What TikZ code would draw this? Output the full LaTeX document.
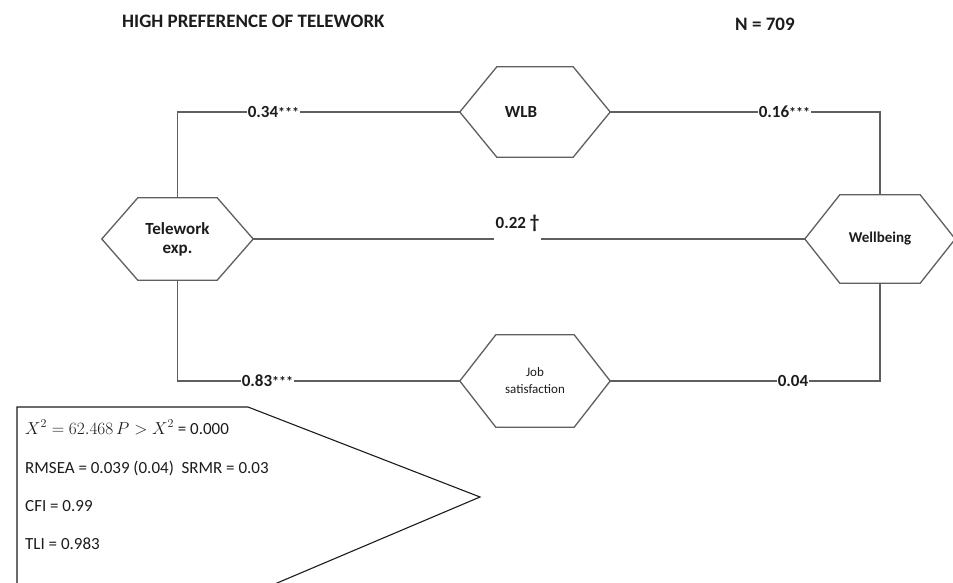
\documentclass[tikz,border=0pt]{standalone}
\usepackage{fontspec}
\setmainfont{Carlito}
\usetikzlibrary{calc}
\definecolor{linegray}{RGB}{95,95,95}
\definecolor{txt}{RGB}{28,28,28}
\newcommand{\hexdraw}[2]{\draw[hexline] (#1.west) -- ([xshift=#2]#1.north west) -- ([xshift=-#2]#1.north east) -- (#1.east) -- ([xshift=-#2]#1.south east) -- ([xshift=#2]#1.south west) -- cycle;}
\newcommand{\stars}{{\fontsize{14}{14}\selectfont ***}}
\begin{document}
\begin{tikzpicture}[x=1pt,y=-1pt,
  hexline/.style={draw=linegray,line width=1.3pt,line join=miter},
  hexnode/.style={draw=none,inner sep=0pt,align=center,text=txt},
  conn/.style={draw=linegray,line width=1.3pt},
  lab/.style={fill=white,inner sep=0.6pt,text=txt,font=\bfseries\fontsize{17}{19}\selectfont},
  fittxt/.style={anchor=base west,inner sep=0pt,text=txt,font=\fontsize{17}{19}\selectfont},
  titletxt/.style={anchor=base west,inner sep=0pt,text=txt,font=\bfseries\fontsize{19}{21}\selectfont}]
\useasboundingbox (0,0) rectangle (953,583);
\fill[white] (0,0) rectangle (953,583);
% titles
\node[titletxt] (title) at (122,28) {HIGH PREFERENCE OF TELEWORK};
\node[titletxt] (nn) at (735,31) {N = 709};
% hexagon nodes
\node[hexnode,minimum width=151pt,minimum height=82pt,font=\bfseries\fontsize{17}{19}\selectfont] (tel) at (177.5,239) {Telework\\exp.};
\node[hexnode,minimum width=150pt,minimum height=90pt,font=\bfseries\fontsize{17}{19}\selectfont] (wlb) at (535,112) {\hspace*{-28pt}WLB};
\node[hexnode,minimum width=150pt,minimum height=92pt,font=\fontsize{13}{17}\selectfont] (job) at (535,381) {Job\\satisfaction};
\node[hexnode,minimum width=150pt,minimum height=88pt,font=\bfseries\fontsize{15}{18}\selectfont] (wb) at (880,239) {Wellbeing};
\hexdraw{tel}{36pt}
\hexdraw{wlb}{37pt}
\hexdraw{job}{36pt}
\hexdraw{wb}{35pt}
% connectors
\draw[conn] (tel.north) |- (wlb.west);
\draw[conn] (wlb.east) -| (wb.north);
\draw[conn] (tel.south) |- (job.west);
\draw[conn] (job.east) -| (wb.south);
\node[lab,fill=none,anchor=south,minimum width=47pt,inner sep=0pt] (mid) at (517.5,232) {0.22 {\fontsize{19}{19}\selectfont †}};
\draw[conn] (tel.east) -- (tel.east -| mid.west);
\draw[conn] (wb.west -| mid.east) -- (wb.west);
% path labels
\node[lab,anchor=west] (l1) at (247,112) {0.34\stars};
\node[lab,anchor=west] (l2) at (758,112) {0.16\stars};
\node[lab,anchor=west] (l3) at (241,381) {0.83\stars};
\node[lab,anchor=west] (l4) at (777,381) {0.04};
% fit box
\draw[draw=txt,line width=1.1pt] (17,600) -- (17,407) coordinate (fa) -- (248,407) coordinate (fb) -- (480,497) coordinate (fc) -- (237,600);
\node[fittxt] (f1) at (25,434) {$X^2 = 62.468\,P > X^2$ = 0.000};
\node[fittxt] (f2) at (25,473) {RMSEA = 0.039 (0.04)\ \ SRMR = 0.03};
\node[fittxt] (f3) at (25,511) {CFI = 0.99};
\node[fittxt] (f4) at (25,549) {TLI = 0.983};
\end{tikzpicture}
\end{document}
